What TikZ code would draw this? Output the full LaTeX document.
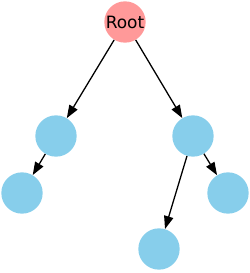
\documentclass[tikz,border=0pt]{standalone}
\usepackage{fontspec}
\setmainfont{DejaVu Sans}
\usetikzlibrary{arrows.meta}

\definecolor{rootpink}{HTML}{FF9999}
\definecolor{leafblue}{HTML}{87CEEB}

\begin{document}
\begin{tikzpicture}[x=0.03cm, y=-0.03cm,
	every node/.style={circle, minimum size=1.24cm, inner sep=0pt, font=\fontsize{14.5}{16}\selectfont},
	edge/.style={-{Triangle[length=11pt, width=8pt]}, line width=1.1pt}]
	\useasboundingbox (0,0) rectangle (250,273);
	\node[fill=rootpink] (root) at (125,22) {Root};
	\foreach \x/\y/\name in {56/136/l, 193/136/r, 22/193/ll, 159/249/rl, 228/193/rr} {
		\node[fill=leafblue] (\name) at (\x,\y) {};
	}
	\draw[edge] (root) -- (l);
	\draw[edge] (root) -- (r);
	\draw[edge] (l) -- (ll);
	\draw[edge] (r) -- (rl);
	\draw[edge] (r) -- (rr);
\end{tikzpicture}
\end{document}
